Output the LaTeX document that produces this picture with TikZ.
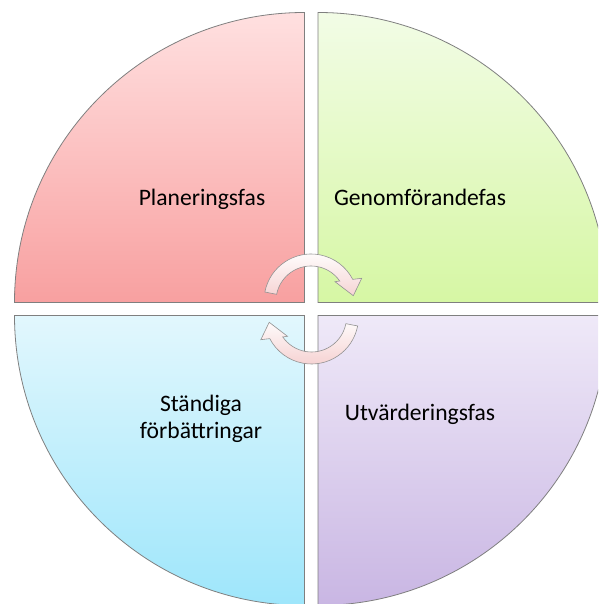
\documentclass[tikz,border=0pt]{standalone}
\usepackage{fontspec}
\setmainfont{Carlito}
\usetikzlibrary{calc}
\definecolor{Edge}{HTML}{7F7F7F}
\definecolor{RoseTop}{HTML}{FFE0E0}
\definecolor{RoseBot}{HTML}{F8A0A0}
\definecolor{LimeTop}{HTML}{F2FCE6}
\definecolor{LimeBot}{HTML}{D6F7A4}
\definecolor{SkyTop}{HTML}{E2F7FD}
\definecolor{SkyBot}{HTML}{9EE6FB}
\definecolor{LilacTop}{HTML}{EFE9F8}
\definecolor{LilacBot}{HTML}{C9B6E3}
\definecolor{ArrowBot}{HTML}{F5CFCF}

\begin{document}
\begin{tikzpicture}[x=1pt,y=1pt,
    quad/.style={draw=Edge,line width=0.8pt},
    turn/.style={draw=Edge!85,line width=0.6pt,top color=white,bottom color=ArrowBot},
    every node/.style={font=\fontsize{23.6}{26.7}\selectfont,align=center,inner sep=0pt}]
  \useasboundingbox (0,0) rectangle (598,604);
  \begin{scope}
    \clip (0,0) rectangle (598,604);
    % quadrants
    \coordinate (tl) at (304.5,301.5);
    \coordinate (tr) at (318,301.5);
    \coordinate (bl) at (304.5,288.5);
    \coordinate (br) at (318,288.5);
    \path[quad,top color=RoseTop,bottom color=RoseBot] (tl) -- ++(-290,0) arc[start angle=180,end angle=90,radius=290] -- cycle;
    \path[quad,top color=LimeTop,bottom color=LimeBot] (tr) -- ++(0,290) arc[start angle=90,end angle=0,radius=290] -- cycle;
    \path[quad,top color=SkyTop,bottom color=SkyBot] (bl) -- ++(0,-290) arc[start angle=270,end angle=180,radius=290] -- cycle;
    \path[quad,top color=LilacTop,bottom color=LilacBot] (br) -- ++(290,0) arc[start angle=0,end angle=-90,radius=290] -- cycle;
  \end{scope}
  % turning arrows
  \coordinate (spin) at (311,303);
  \coordinate (spun) at (311.5,287);
  \path[turn] (spin) ++(169:47) arc[start angle=169,end angle=27.4,radius=47] -- (361.7,325.7) -- (353.3,308.3) -- (335,322.3) -- ($(spin)+(34.8:35)$) arc[start angle=34.8,end angle=169,radius=35] -- cycle;
  \path[turn] (spun) ++(349:47) arc[start angle=349,end angle=207.4,radius=47] -- (260.8,264.3) -- (269.2,281.7) -- (287.5,267.7) -- ($(spun)+(214.8:35)$) arc[start angle=214.8,end angle=349,radius=35] -- cycle;
  % labels
  \node[anchor=base] (plan) at (202,398) {Planeringsfas};
  \node[anchor=base] (genom) at (420,398) {Genomförandefas};
  \node[anchor=base] (stand) at (201,165.7) {Ständiga\\förbättringar};
  \node[anchor=base] (utv) at (420,183.4) {Utvärderingsfas};
\end{tikzpicture}
\end{document}
